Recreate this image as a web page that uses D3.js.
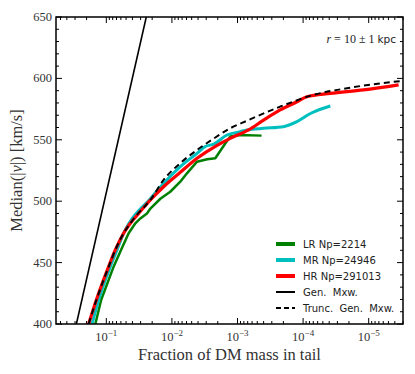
<!DOCTYPE html>
<html>
<head>
<meta charset="utf-8">
<script src="https://cdn.jsdelivr.net/npm/d3@7"></script>
<style>
  body { margin: 0; background: #fff; }
  svg { display: block; }
</style>
</head>
<body>
<div id="chart"></div>
<script>
// series: fraction of DM mass in tail vs median |v|
var lrFrac = [0.147, 0.12, 0.0774, 0.0597, 0.0457, 0.0361, 0.0303, 0.024, 0.0213, 0.015, 0.0106, 0.00745, 0.0059, 0.00414, 0.0029, 0.00218, 0.00153, 0.00129, 0.00091, 0.00043];
var lrVel  = [400, 419.5, 446.7, 460.3, 473.9, 482, 486, 490, 494, 502, 507.7, 515.9, 522.7, 532.2, 534.1, 535, 547.2, 552.6, 553.9, 553.4];

var mrFrac = [0.165, 0.131, 0.0869, 0.0687, 0.0545, 0.045, 0.0213, 0.0134, 0.00745, 0.00414, 0.0031, 0.0023, 0.00145, 0.00091, 0.00072, 0.0004, 0.0002, 0.000124, 0.000076, 0.0000385];
var mrVel  = [400, 419.5, 446.7, 460.3, 473.9, 482, 502, 514.5, 528.1, 539, 544.5, 546.5, 553.9, 556.6, 558, 559.4, 560.7, 564.8, 571.6, 577.5];

var hrFrac = [0.186, 0.142, 0.0923, 0.073, 0.0545, 0.043, 0.0322, 0.0213, 0.0134, 0.00745, 0.00414, 0.00205, 0.00129, 0.00068, 0.0004, 0.000224, 0.000124, 0.000088, 0.0000385, 0.000012, 0.0000035];
var hrVel  = [400, 419.5, 446.7, 460.3, 473.9, 482, 490, 501, 511.8, 523.5, 534.9, 545.5, 551.2, 558, 566, 574.3, 581, 585.1, 587.8, 590.6, 594.7];

var genFrac = [0.286, 0.0246];
var genVel  = [400, 650];

var truncFrac = [0.186, 0.142, 0.092, 0.073, 0.0545, 0.043, 0.0361, 0.0213, 0.0134, 0.00745, 0.00414, 0.00231, 0.00129, 0.00072, 0.000224, 0.000069, 0.0000214, 0.0000066, 0.000003];
var truncVel  = [400, 419.5, 446.7, 460.3, 473.9, 482, 487.4, 501, 517.3, 531, 541.7, 551, 559.4, 565.5, 577, 586.6, 592, 596, 598];

var yTicks = [400, 450, 500, 550, 600, 650];
var xTickExp = [-1, -2, -3, -4, -5];

var series = [
  {name: 'LR Np=2214', frac: lrFrac, vel: lrVel, color: 'green', width: 2.5, dash: null, patch: true, smooth: false},
  {name: 'MR Np=24946', frac: mrFrac, vel: mrVel, color: '#00bfbf', width: 3, dash: null, patch: true, smooth: true},
  {name: 'HR Np=291013', frac: hrFrac, vel: hrVel, color: 'red', width: 3.2, dash: null, patch: true, smooth: true},
  {name: 'Gen.  Mxw.', frac: genFrac, vel: genVel, color: 'black', width: 1.6, dash: null, patch: false, smooth: false},
  {name: 'Trunc.  Gen.  Mxw.', frac: truncFrac, vel: truncVel, color: 'black', width: 2, dash: '6,4', patch: false, smooth: true}
];

var W = 415, H = 374;
var margin = {top: 17, right: 12, bottom: 50, left: 56};
var x0 = margin.left, x1 = W - margin.right, y0 = margin.top, y1 = H - margin.bottom;

var serif = "'Liberation Serif', 'DejaVu Serif', serif";
var sans = "'DejaVu Sans', sans-serif";

var x = d3.scaleLog().domain([0.585, 3e-6]).range([x0, x1]);
var y = d3.scaleLinear().domain([400, 650]).range([y1, y0]);

var svg = d3.select('#chart').append('svg')
    .attr('width', W)
    .attr('height', H);

svg.append('defs').append('clipPath').attr('id', 'plot-clip')
    .append('rect')
    .attr('x', x0).attr('y', y0)
    .attr('width', x1 - x0).attr('height', y1 - y0);

// data lines
var curves = svg.append('g').attr('clip-path', 'url(#plot-clip)');
// draw order: LR, MR, HR, then the models on top
series.forEach(function(s){
  var line = d3.line()
      .curve(s.smooth ? d3.curveMonotoneX : d3.curveLinear)
      .x(function(d){ return x(d[0]); })
      .y(function(d){ return y(d[1]); });
  var pts = s.frac.map(function(f, i){ return [f, s.vel[i]]; });
  curves.append('path')
      .attr('d', line(pts))
      .attr('fill', 'none')
      .attr('stroke', s.color)
      .attr('stroke-width', s.width)
      .attr('stroke-linejoin', 'round')
      .attr('stroke-dasharray', s.dash);
});

// ticks, inward on all four sides
var ticks = svg.append('g').attr('stroke', 'black').attr('stroke-width', 1);
d3.range(400, 651, 10).forEach(function(v){
  var len = (v % 50 === 0) ? 6 : 3;
  ticks.append('line').attr('x1', x0).attr('x2', x0 + len).attr('y1', y(v)).attr('y2', y(v));
  ticks.append('line').attr('x1', x1).attr('x2', x1 - len).attr('y1', y(v)).attr('y2', y(v));
});
var minor = [];
for (var e = -6; e <= 0; e++) {
  for (var m = 1; m <= 9; m++) {
    var v = m * Math.pow(10, e);
    if (v <= 0.585 && v >= 3e-6) minor.push({v: v, major: m === 1});
  }
}
minor.forEach(function(t){
  var len = t.major ? 6 : 3;
  var px = x(t.v);
  ticks.append('line').attr('x1', px).attr('x2', px).attr('y1', y1).attr('y2', y1 - len);
  ticks.append('line').attr('x1', px).attr('x2', px).attr('y1', y0).attr('y2', y0 + len);
});

// frame
svg.append('rect')
    .attr('x', x0).attr('y', y0)
    .attr('width', x1 - x0).attr('height', y1 - y0)
    .attr('fill', 'none').attr('stroke', 'black').attr('stroke-width', 1.5);

// y tick labels
svg.append('g').selectAll('text').data(yTicks).enter().append('text')
    .attr('x', x0 - 4)
    .attr('y', function(d){ return y(d) + 4; })
    .attr('text-anchor', 'end')
    .attr('font-family', serif)
    .attr('font-size', 12.5)
    .attr('fill', '#333')
    .text(function(d){ return d; });

// x tick labels 10^-n
xTickExp.forEach(function(ex){
  var t = svg.append('text')
      .attr('x', x(Math.pow(10, ex)))
      .attr('y', y1 + 17)
      .attr('text-anchor', 'middle')
      .attr('font-family', serif)
      .attr('font-size', 12.5)
      .attr('fill', '#333');
  t.append('tspan').text('10');
  t.append('tspan').attr('dy', -5).attr('font-size', 9).text('\u2212' + (-ex));
});

// axis labels
svg.append('text')
    .attr('x', (x0 + x1) / 2)
    .attr('y', y1 + 36)
    .attr('text-anchor', 'middle')
    .attr('font-family', serif)
    .attr('font-size', 16.5)
    .attr('fill', '#333')
    .text('Fraction of DM mass in tail');

var yl = svg.append('text')
    .attr('transform', 'translate(22,' + ((y0 + y1) / 2) + ') rotate(-90)')
    .attr('text-anchor', 'middle')
    .attr('font-family', serif)
    .attr('font-size', 16.5)
    .attr('fill', '#333');
yl.append('tspan').text('Median(|');
yl.append('tspan').attr('font-style', 'italic').text('v');
yl.append('tspan').text('|) [km/s]');

// annotation
var ann = svg.append('text')
    .attr('x', x1 - 7)
    .attr('y', 43)
    .attr('text-anchor', 'end')
    .attr('font-size', 12)
    .attr('fill', '#222');
ann.append('tspan').attr('font-family', serif).attr('font-style', 'italic').text('r');
ann.append('tspan').attr('font-family', serif).text(' = 10 \u00b1 1 ');
ann.append('tspan').attr('font-family', sans).attr('font-size', 10.5).text('kpc');

// legend
var legend = svg.append('g');
series.forEach(function(s, i){
  var ly = 244 + i * 16;
  legend.append('line')
      .attr('x1', 276).attr('x2', 295)
      .attr('y1', ly).attr('y2', ly)
      .attr('stroke', s.color)
      .attr('stroke-width', s.patch ? 4 : 2)
      .attr('stroke-dasharray', s.dash ? '5,3' : null);
  legend.append('text')
      .attr('x', 303).attr('y', ly + 4)
      .attr('font-family', sans)
      .attr('font-size', 10)
      .attr('fill', '#222')
      .style('white-space', 'pre')
      .text(s.name);
});
</script>
</body>
</html>
